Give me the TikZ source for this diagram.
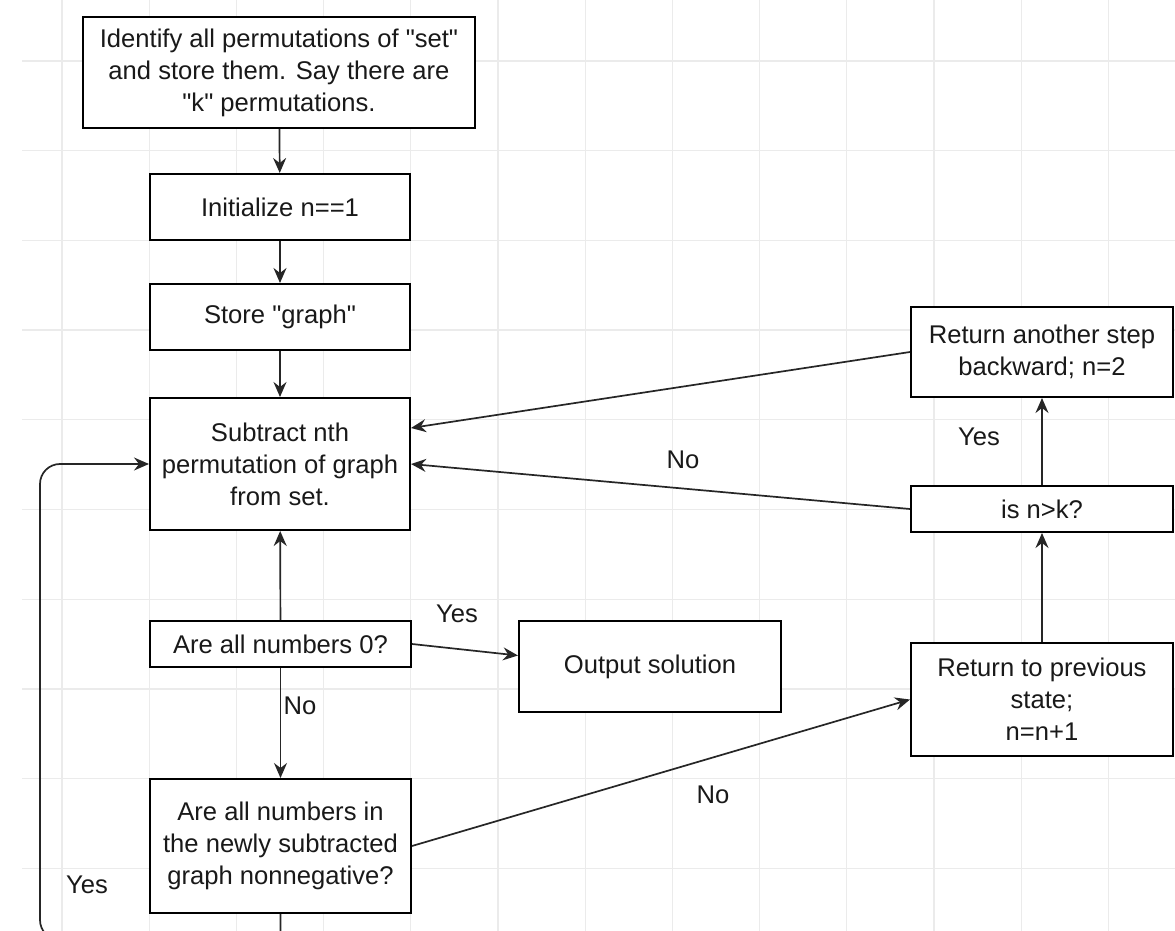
\documentclass[tikz,border=0pt]{standalone}
\usepackage{fontspec}
\setmainfont{Liberation Sans}
\usetikzlibrary{arrows.meta,calc}
\newcommand{\q}{\textquotedbl}
\begin{document}
\begin{tikzpicture}[x=0.5pt,y=-0.5pt,
  every node/.style={font=\fontsize{12.8}{16}\selectfont, text=black!90},
  box/.style={draw=black, line width=1pt, fill=white, inner sep=0pt, align=center},
  conn/.style={draw=black!85, line width=0.85pt, -{Stealth[length=7.5pt,width=6.5pt,inset=2.5pt]}},
  lbl/.style={inner sep=0pt},
  gridline/.style={draw=black!8, line width=0.6pt}]
\useasboundingbox (0,0) rectangle (1175,931);
\clip (0,0) rectangle (1175,931);
\fill[white] (0,0) rectangle (1175,931);
% grid
\foreach \gx in {62,149.2,236.4,323.6,410.8,498,585.2,672.4,759.6,846.8,934,1021.2,1108.4}
  \draw[gridline] (\gx,0) -- (\gx,931);
\foreach \gy in {61,150.7,240.4,330.1,419.8,509.5,599.2,688.9,778.6,868.3}
  \draw[gridline] (22,\gy) -- (1175,\gy);
% boxes
\node[box, minimum width=196pt, minimum height=55.5pt] (top) at (279,72.5)
  {Identify all permutations of \q set\q\\ and store them. Say there are\\ \q k\q\ permutations.};
\node[box, minimum width=130pt, minimum height=33pt] (init) at (280,207) {Initialize n==1};
\node[box, minimum width=130pt, minimum height=33pt] (store) at (280,317) {Store \q graph\q};
\node[box, minimum width=130pt, minimum height=66pt] (sub) at (280,464)
  {Subtract nth\\ permutation of graph\\ from set.};
\node[box, minimum width=130.5pt, minimum height=23pt] (zero) at (280.5,644) {Are all numbers 0?};
\node[box, minimum width=130.5pt, minimum height=67pt] (nonneg) at (280.5,846)
  {Are all numbers in\\ the newly subtracted\\ graph nonnegative?};
\node[box, minimum width=131pt, minimum height=45.5pt] (out) at (650,666.5) {Output solution};
\node[box, minimum width=131pt, minimum height=56.5pt] (prev) at (1042,699.5)
  {Return to previous\\ state;\\ n=n+1};
\node[box, minimum width=131pt, minimum height=23pt] (isnk) at (1042,509) {is n>k?};
\node[box, minimum width=131pt, minimum height=45pt] (back) at (1042,352)
  {Return another step\\ backward; n=2};
% connectors
\draw[conn] (top) -- (init);
\draw[conn] (init) -- (store);
\draw[conn] (store) -- (sub);
\draw[conn] (zero) -- (sub);
\draw[conn] (zero) -- (nonneg);
\draw[conn] (zero.east) -- ([yshift=5.5pt]out.west);
\draw[conn] (nonneg.east) -- (prev.west);
\draw[conn] (prev) -- (isnk);
\draw[conn] (isnk) -- (back);
\draw[conn] (isnk.west) -- (sub.east);
\draw[conn] (back.west) -- ([yshift=18pt]sub.east);
\coordinate (lb) at (280.5,940);
\coordinate (ll) at (40,940);
\coordinate (lt) at (40,464);
\draw[conn] (nonneg.south) -- (lb) {[rounded corners=10pt] -- (ll) -- (lt) -- (sub.west)};
% labels
\node[lbl] (l1) at (457,614) {Yes};
\node[lbl] (l2) at (300,706) {No};
\node[lbl] (l3) at (713,795) {No};
\node[lbl] (l4) at (979,437) {Yes};
\node[lbl] (l5) at (683,460) {No};
\node[lbl] (l6) at (87,885) {Yes};
\end{tikzpicture}
\end{document}
